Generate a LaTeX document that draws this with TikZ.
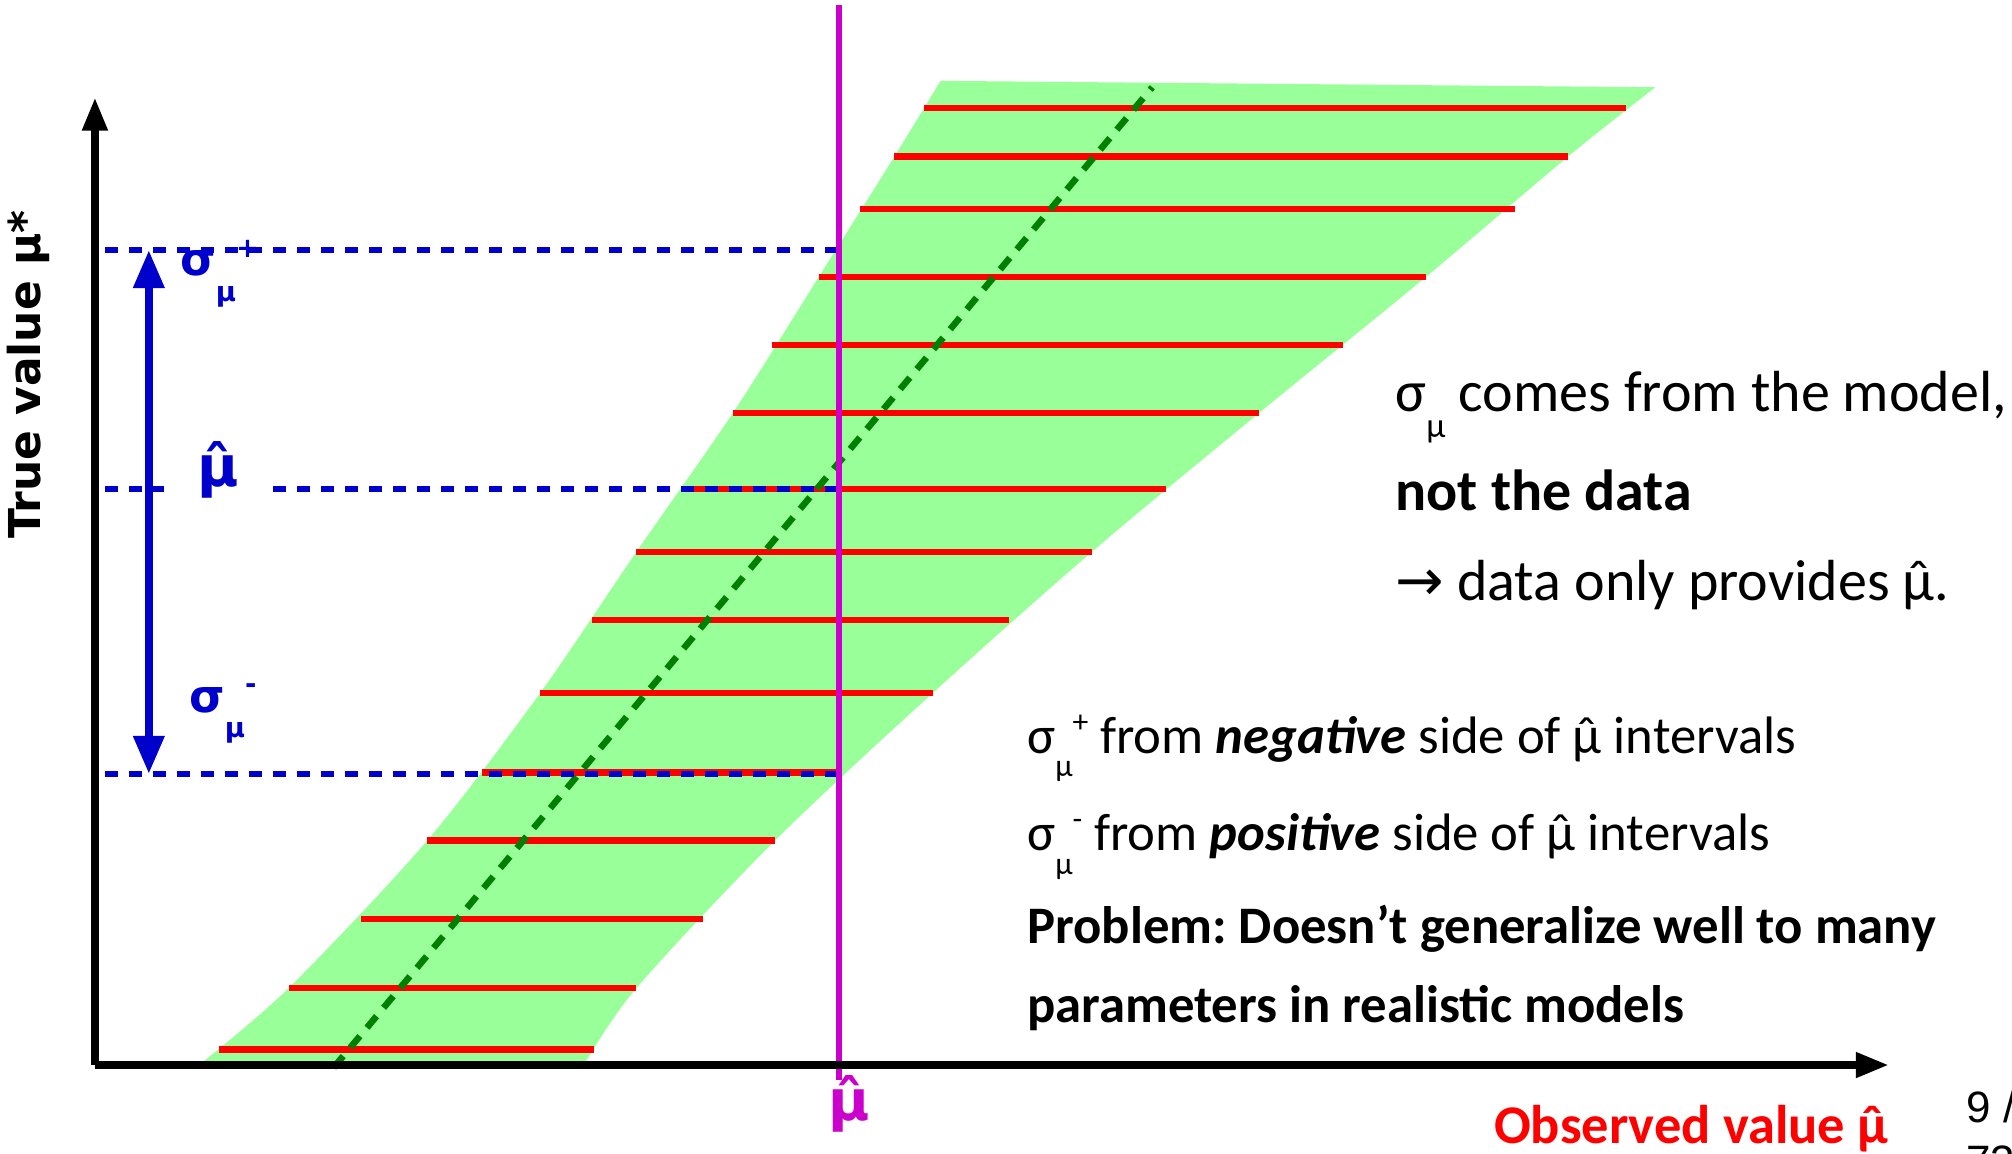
\documentclass[tikz,border=0pt]{standalone}
\usepackage{fontspec}
\usepackage{graphicx}
\setmainfont{Carlito}
\newfontfamily\dejavu{DejaVu Sans}
\newfontfamily\libsans{Liberation Sans}
\usepackage{tikz}
\usetikzlibrary{arrows.meta}
\definecolor{belt}{RGB}{153,255,153}
\definecolor{dblue}{RGB}{0,0,204}
\definecolor{mag}{RGB}{204,0,204}
\definecolor{dgreen}{RGB}{0,128,0}
\newcommand{\lowsub}[1]{\raisebox{-0.55em}{\scalebox{0.6}{#1}}}
\newcommand{\txtsub}[1]{\raisebox{-0.45em}{\scalebox{0.6}{#1}}}
\newcommand{\highsup}[1]{\raisebox{0.4em}{\scalebox{0.6}{#1}}}
\newcommand{\muhat}{\ooalign{μ\cr\hidewidth ˆ\hidewidth\cr}}
\frenchspacing

\begin{document}
\begin{tikzpicture}[x=0.12832mm,y=-0.12832mm,
 ax/.style={line width=0.75mm,-{Triangle[length=3.3mm,width=2.4mm]}},
 iv/.style={red,line width=0.65mm},
 lvl/.style={dblue,line width=0.65mm,dash pattern=on 1.3mm off 1.1mm},
 bl/.style={text=dblue,inner sep=0pt,font=\dejavu\bfseries\fontsize{13}{13}\selectfont},
 rt/.style={anchor=base west,inner sep=0pt,font=\fontsize{16.5}{16.5}\selectfont},
 rb/.style={anchor=base west,inner sep=0pt,font=\fontsize{15}{15}\selectfont}]
\useasboundingbox (0,0) rectangle (1568,899);
% belt
\fill[belt] plot[smooth,tension=.5] coordinates {(155,830) (225,770) (333,655) (421,540) (496,430) (571,322) (638,216) (697,122) (733,63)}
  -- plot[smooth,tension=.5] coordinates {(1290,68) (1222,122) (1111,216) (981,322) (851,430) (727,540) (604,655) (496,770) (455,830)} -- cycle;
% intervals
\foreach \y/\a/\b in {84/720/1267,122/697/1222,163/670/1181,216/638/1111,269/602/1047,322/571/981,381/535/909,430/496/851,483/461/786,540/421/727,602/376/654,655/333/604,716/281/548,770/225/496,818/171/463}
  \draw[iv] (\a,\y) -- (\b,\y);
\draw[dgreen,line width=0.65mm,dash pattern=on 1.5mm off 1.1mm] (260,832) -- (898,68);
% levels
\coordinate (up0) at (82,195); \coordinate (up1) at (654,195);
\coordinate (md0) at (82,381); \coordinate (md1) at (654,381);
\coordinate (lo0) at (82,603); \coordinate (lo1) at (654,603);
\draw[lvl] (up0) -- (up1);
\draw[lvl] (md0) -- (md1);
\draw[lvl] (lo0) -- (lo1);
\draw[dblue,line width=0.75mm,{Triangle[length=3.8mm,width=3mm]}-{Triangle[length=3.8mm,width=3mm]}] (116,195) -- (116,603);
\node[bl,anchor=base west] (sup) at (140,215) {σ\lowsub{μ}\highsup{+}};
\node[bl,fill=white,minimum width=10.9mm,minimum height=5mm,font=\dejavu\bfseries\fontsize{16}{16}\selectfont] (muh) at (170,366) {μ̂};
\node[bl,anchor=base west] (slo) at (147,555) {σ\lowsub{μ}\highsup{-}};
% observed
\coordinate (mtop) at (654,4);
\node[text=mag,inner sep=0pt,font=\dejavu\bfseries\fontsize{16}{16}\selectfont] (mlab) at (662,860) {μ̂};
\draw[mag,line width=0.65mm] (mtop) -- (654,842);
% axes
\coordinate (O) at (74,830);
\coordinate (ytip) at (74,76);
\coordinate (xtip) at (1472,830);
\draw[ax] (O) -- (ytip);
\draw[ax] (O) -- (xtip);
\node[rotate=90,inner sep=0pt,font=\dejavu\bfseries\fontsize{12.5}{12.5}\selectfont] (ylab) at (22,292) {True value μ*};
\node[anchor=base east,inner sep=0pt,text=red,font=\bfseries\fontsize{15.5}{15.5}\selectfont] (xlab) at (1472,891) {Observed value \muhat};
\node[anchor=base west,inner sep=0pt,font=\libsans\fontsize{12.5}{12.5}\selectfont] (pg) at (1532,875) {9 /};
\node[anchor=base west,inner sep=0pt,font=\libsans\fontsize{12.5}{12.5}\selectfont] (pgb) at (1532,917) {73};
% remarks
\node[rt] (r1) at (1087,321) {σ\txtsub{μ} comes from the model,};
\node[rt] (r2) at (1087,398) {\textbf{not the data}};
\node[rt] (r3) at (1087,468) {{\dejavu →} data only provides \muhat.};
\node[rb] (r4) at (800,587) {σ\txtsub{μ}\highsup{+} from \textbf{\textit{negative}} side of \muhat\ intervals};
\node[rb] (r5) at (800,663) {σ\txtsub{μ}\highsup{-} from \textbf{\textit{positive}} side of \muhat\ intervals};
\node[rb] (r6) at (800,735) {\textbf{Problem: Doesn’t generalize well to many}};
\node[rb] (r7) at (800,797) {\textbf{parameters in realistic models}};
\end{tikzpicture}
\end{document}
